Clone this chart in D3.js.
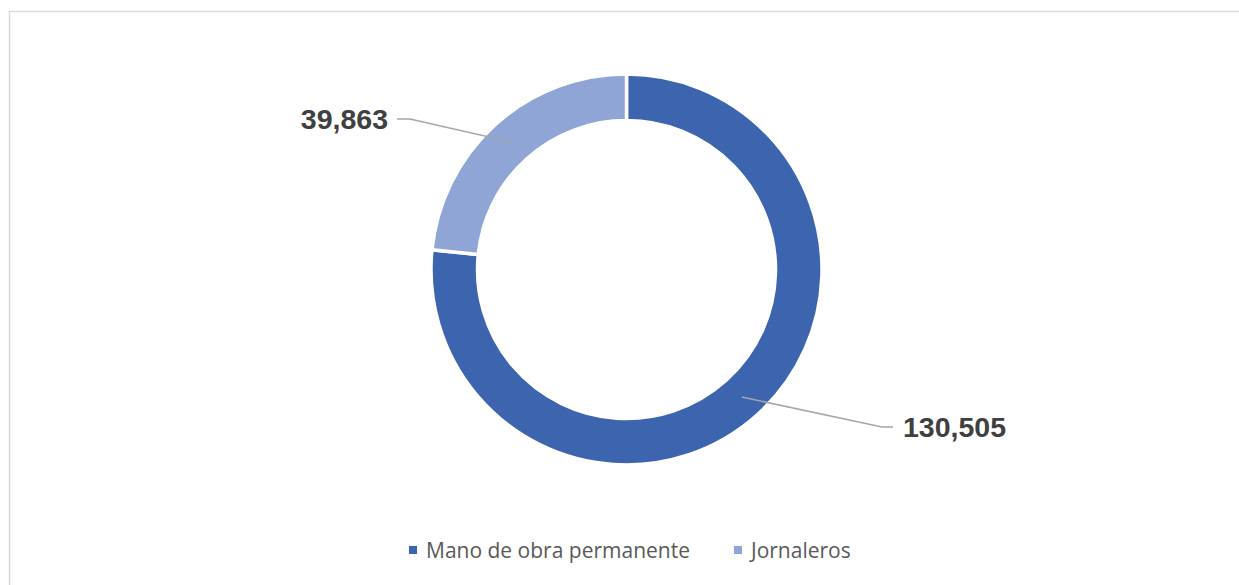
<!DOCTYPE html>
<html>
<head>
<meta charset="utf-8">
<script src="https://cdn.jsdelivr.net/npm/d3@7"></script>
<style>
  html, body { margin: 0; padding: 0; background: #fff; }
  svg { display: block; }
</style>
</head>
<body>
<svg id="chart" width="1239" height="585"></svg>
<script>
// Workforce composition
const categories = ["Mano de obra permanente", "Jornaleros"];
const values = [130505, 39863];
const colors = ["#3D64AE", "#8FA5D5"];
const valueLabels = ["130,505", "39,863"];

const W = 1239, H = 585;
const svg = d3.select("#chart");

// chart frame
svg.append("path")
  .attr("d", `M9.5,${H} V11.5 H${W}`)
  .attr("fill", "none")
  .attr("stroke", "#d9d9d9")
  .attr("stroke-width", 1.5);

const cx = 626.5, cy = 269.5;
const outerR = 195.5, innerR = 149;

const pie = d3.pie().sort(null).value(d => d);
const arcs = pie(values);
const arc = d3.arc().innerRadius(innerR).outerRadius(outerR);
const midArc = d3.arc().innerRadius(172).outerRadius(172);

const g = svg.append("g").attr("transform", `translate(${cx},${cy})`);

g.selectAll("path.slice")
  .data(arcs)
  .join("path")
  .attr("class", "slice")
  .attr("d", arc)
  .attr("fill", (d, i) => colors[i])
  .attr("stroke", "#fff")
  .attr("stroke-width", 3.5)
  .attr("stroke-linejoin", "miter");

// leader lines and value labels (elbow offset, horizontal run, label side)
const leaders = [
  { elbow: [255.5, 157.5], run: 11, anchor: "start" },
  { elbow: [-216.5, -150.5], run: -13, anchor: "end" }
];

arcs.forEach((d, i) => {
  const [sx, sy] = midArc.centroid(d);
  const L = leaders[i];
  const ex = L.elbow[0], ey = L.elbow[1];
  const tx = ex + L.run;
  g.append("polyline")
    .attr("points", `${sx},${sy} ${ex},${ey} ${tx},${ey}`)
    .attr("fill", "none")
    .attr("stroke", "#a6a6a6")
    .attr("stroke-width", 1.5);
  g.append("text")
    .attr("x", tx + (L.anchor === "start" ? 10 : -9))
    .attr("y", ey + 10)
    .attr("text-anchor", L.anchor)
    .attr("font-family", "Liberation Sans, Arial, sans-serif")
    .attr("font-weight", "bold")
    .attr("font-size", 28.5)
    .attr("fill", "#404040")
    .text(valueLabels[i]);
});

// legend
const legendX = [409, 734];
const legend = svg.append("g");
categories.forEach((c, i) => {
  legend.append("rect")
    .attr("x", legendX[i]).attr("y", 546)
    .attr("width", 8).attr("height", 8)
    .attr("fill", colors[i]);
  legend.append("text")
    .attr("x", legendX[i] + 17).attr("y", 557.5)
    .attr("font-family", "Open Sans, sans-serif")
    .attr("font-size", 21)
    .attr("fill", "#595959")
    .text(c);
});
</script>
</body>
</html>
